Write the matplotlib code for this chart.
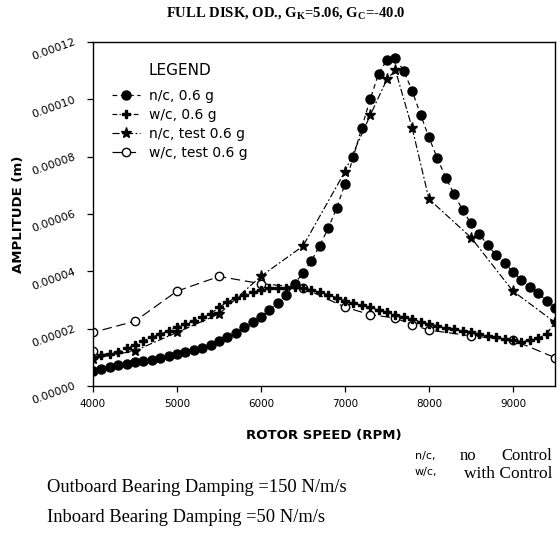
import numpy as np
import matplotlib.pyplot as plt
from matplotlib.lines import Line2D

# rotor speed grid for the model curves (every 100 rpm)
rpm_model = np.arange(4000, 9501, 100)

# n/c, 0.6 g  (amplitude in 1e-5 m)
nc_amp = [0.53, 0.58, 0.67, 0.72, 0.76, 0.82, 0.88, 0.91, 0.97, 1.04,
          1.11, 1.17, 1.25, 1.34, 1.43, 1.58, 1.70, 1.84, 2.05, 2.22,
          2.42, 2.66, 2.89, 3.18, 3.57, 3.94, 4.36, 4.90, 5.50, 6.20,
          7.04, 7.99, 9.01, 10.00, 10.89, 11.38, 11.43, 11.00, 10.29, 9.47,
          8.67, 7.94, 7.27, 6.69, 6.14, 5.67, 5.30, 4.91, 4.56, 4.29,
          3.98, 3.71, 3.47, 3.24, 2.98, 2.73]

# w/c, 0.6 g
wc_amp = [0.99, 1.09, 1.13, 1.20, 1.31, 1.44, 1.58, 1.70, 1.81, 1.93,
          2.07, 2.16, 2.28, 2.40, 2.51, 2.75, 2.92, 3.08, 3.19, 3.27,
          3.36, 3.41, 3.43, 3.43, 3.45, 3.43, 3.36, 3.27, 3.19, 3.08,
          2.98, 2.90, 2.82, 2.74, 2.65, 2.57, 2.49, 2.41, 2.33, 2.24,
          2.16, 2.10, 2.04, 1.98, 1.93, 1.87, 1.82, 1.76, 1.70, 1.65,
          1.60, 1.55, 1.60, 1.67, 1.81, 2.22]

# n/c, test 0.6 g
rpm_nc_test = [4000, 4500, 5000, 5500, 6000, 6500, 7000, 7300, 7500, 7600,
               7800, 8000, 8500, 9000, 9500]
nc_test_amp = [0.95, 1.23, 1.87, 2.51, 3.83, 4.88, 7.48, 9.44, 10.70, 11.02,
               9.00, 6.52, 5.18, 3.31, 2.22]

# w/c, test 0.6 g
rpm_wc_test = [4000, 4000, 4500, 5000, 5500, 6000, 6500, 7000, 7300, 7600,
               7800, 8000, 8500, 9000, 9500]
wc_test_amp = [1.23, 1.87, 2.26, 3.31, 3.82, 3.57, 3.43, 2.75, 2.49, 2.37,
               2.14, 1.95, 1.75, 1.60, 0.99]

labels = ["n/c, 0.6 g", "w/c, 0.6 g", "n/c, test 0.6 g", "w/c, test 0.6 g"]
x_ticks = [4000, 5000, 6000, 7000, 8000, 9000]
y_ticks = [0.0, 0.00002, 0.00004, 0.00006, 0.00008, 0.00010, 0.00012]

sans = "DejaVu Sans"
serif = "Liberation Serif"

fig = plt.figure(figsize=(5.6, 5.35), dpi=100)
ax = fig.add_axes([0.166, 0.2785, 0.825, 0.643])

sc = 1e-5
ax.plot(rpm_wc_test, np.array(wc_test_amp) * sc, color="black", lw=0.85,
        dashes=(8, 4), marker="o", ms=6, mfc="white", mec="black", mew=1.0)
ax.plot(rpm_nc_test, np.array(nc_test_amp) * sc, color="black", lw=0.85,
        dashes=(6, 2, 1.5, 2), marker="*", ms=8)
ax.plot(rpm_model, np.array(wc_amp) * sc, color="black", lw=0.85,
        dashes=(4, 2, 1, 2), marker="P", ms=6)
ax.plot(rpm_model, np.array(nc_amp) * sc, color="black", lw=0.85,
        dashes=(4, 3), marker="o", ms=6.5)

ax.set_xlim(4000, 9500)
ax.set_ylim(0, 0.00012)
ax.set_xticks(x_ticks)
ax.set_xticklabels([str(v) for v in x_ticks], fontsize=7.5, family=sans)
ax.set_yticks(y_ticks)
ax.set_yticklabels([f"{v:.5f}" for v in y_ticks], fontsize=8, family=sans,
                   rotation=20, ha="right", va="center", rotation_mode="anchor")
ax.tick_params(axis="x", direction="out", length=4, width=0.9, pad=5)
ax.tick_params(axis="y", direction="out", length=4, width=0.9, pad=9)
for s in ax.spines.values():
    s.set_linewidth(1.0)

ax.set_xlabel("ROTOR SPEED (RPM)", fontsize=9.5, fontweight="bold",
              family=sans, labelpad=15)
ax.set_ylabel("AMPLITUDE (m)", fontsize=9.5, fontweight="bold",
              family=sans, labelpad=4)

handles = [
    Line2D([], [], color="black", lw=0.85, dashes=(4, 3), marker="o", ms=6.5),
    Line2D([], [], color="black", lw=0.85, dashes=(4, 2, 1, 2), marker="P", ms=6),
    Line2D([], [], color="black", lw=0.85, dashes=(6, 2, 1.5, 2), marker="*", ms=8),
    Line2D([], [], color="black", lw=0.85, dashes=(8, 4), marker="o", ms=6,
           mfc="white", mec="black", mew=1.0),
]
leg = ax.legend(handles, labels, loc="upper left", bbox_to_anchor=(0.015, 0.975),
                frameon=False, title="LEGEND", handlelength=2.0,
                handletextpad=0.6, labelspacing=0.35,
                prop={"family": sans, "size": 10},
                title_fontproperties={"family": sans, "size": 11})
leg._legend_box.sep = 8

fig.text(0.51, 0.975, r"FULL DISK, OD., G$_\mathregular{K}$=5.06, G$_\mathregular{C}$=-40.0",
         ha="center", va="center", fontsize=10.5, fontweight="bold", family=serif)

fig.text(415 / 560, 1 - 456 / 535, "n/c,", fontsize=8, family=sans, va="center")
fig.text(460 / 560, 1 - 456 / 535, "no", fontsize=12, family=serif, va="center")
fig.text(552 / 560, 1 - 456 / 535, "Control", fontsize=12, family=serif,
         va="center", ha="right")
fig.text(415 / 560, 1 - 472 / 535, "w/c,", fontsize=8, family=sans, va="center")
fig.text(552 / 560, 1 - 474 / 535, "with Control", fontsize=12.5, family=serif,
         va="center", ha="right")

fig.text(47 / 560, 1 - 487 / 535, "Outboard Bearing Damping =150 N/m/s",
         fontsize=13.3, family=serif, va="center")
fig.text(47 / 560, 1 - 517 / 535, "Inboard Bearing Damping =50 N/m/s",
         fontsize=13.3, family=serif, va="center")

fig.savefig("out.png", dpi=100)
